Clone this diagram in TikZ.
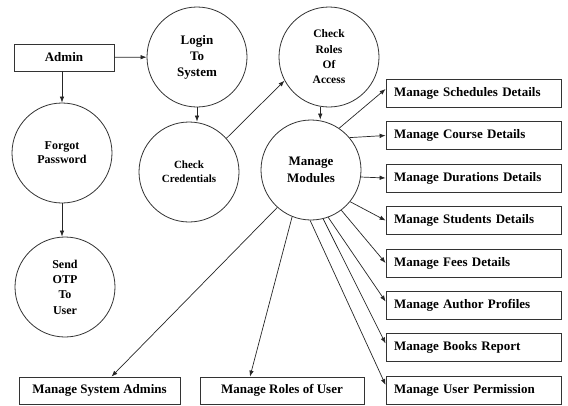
\documentclass[tikz,border=0pt]{standalone}
\usepackage{fontspec}
\setmainfont{Liberation Serif}
\usetikzlibrary{arrows.meta}

\begin{document}
\begin{tikzpicture}[x=1pt, y=-1pt,
        box/.style={rectangle, draw=black!80, line width=0.8pt, inner sep=0pt, minimum height=28pt, font=\fontsize{13}{15}\selectfont\bfseries},
        task/.style={box, text width=159pt, inner xsep=8pt, align=left},
        proc/.style={circle, draw=black!80, line width=0.8pt, inner sep=0pt, minimum size=100pt, align=center, font=\fontsize{13}{16}\selectfont\bfseries},
        arrow/.style={-{Latex[length=6pt,width=4.5pt]}, line width=0.7pt, draw=black!85}
    ]
        \useasboundingbox (0,0) rectangle (568,405);

        % Entry
        \node[box, minimum width=100pt, minimum height=27pt] (admin) at (64,57.5) {Admin};
        \node[proc] (login) at (197,57) {Login\\To\\System};

        % Password recovery
        \node[proc, font=\fontsize{12}{14}\selectfont\bfseries] (forgot) at (62,153) {Forgot\\Password};
        \node[proc, font=\fontsize{12}{15.3}\selectfont\bfseries] (otp) at (65,287) {Send\\OTP\\To\\User};

        % Access checks
        \node[proc, font=\fontsize{11}{14}\selectfont\bfseries] (cred) at (189,172) {Check\\Credentials};
        \node[proc, font=\fontsize{11.5}{15.3}\selectfont\bfseries] (roles) at (329,57) {Check\\Roles\\Of\\Access};
        \node[proc, font=\fontsize{13}{17}\selectfont\bfseries] (modules) at (311,170) {Manage\\Modules};

        % Modules on the right
        \node[task] (sched) at (473.5,93) {Manage Schedules Details};
        \node[task] (course) at (473.5,135.5) {Manage Course Details};
        \node[task] (dur) at (473.5,178) {Manage Durations Details};
        \node[task] (stud) at (473.5,220.5) {Manage Students Details};
        \node[task] (fees) at (473.5,263) {Manage Fees Details};
        \node[task] (author) at (473.5,305.5) {Manage Author Profiles};
        \node[task] (books) at (473.5,347.5) {Manage Books Report};
        \node[task] (perm) at (473.5,390) {Manage User Permission};

        % Modules at the bottom
        \node[box, minimum width=161pt, minimum height=27pt] (admins) at (99.5,390.5) {Manage System Admins};
        \node[box, minimum width=164pt, minimum height=27pt] (userroles) at (282,390.5) {Manage Roles of User};

        % Arrows
        \draw[arrow] (admin) -- (login);
        \draw[arrow] (admin.south -| forgot.north) -- (forgot.north);
        \draw[arrow] (forgot.south) -- (forgot.south |- otp.north);
        \draw[arrow] (login.south) -- (login.south |- cred.north);
        \draw[arrow] (cred.42) -- (roles.208);
        \draw[arrow] (roles.260) -- (roles.260 |- modules.north);

        \draw[arrow] (modules.56) -- ([yshift=4pt]sched.west);
        \draw[arrow] (modules.40) -- (course.west);
        \draw[arrow] (modules.-8) -- (dur.west);
        \draw[arrow] (modules.-39) -- (stud.west);
        \draw[arrow] (modules.-53) -- (fees.west);
        \draw[arrow] (modules.-70) -- ([yshift=4pt]author.west);
        \draw[arrow] (modules.-76) -- ([yshift=4pt]books.west);
        \draw[arrow] (modules.-91) -- ([yshift=5pt]perm.west);
        \draw[arrow] (modules.-112) -- ([xshift=-32pt]userroles.north);
        \draw[arrow] (modules.-132) -- ([xshift=12pt]admins.north);
    \end{tikzpicture}
\end{document}
